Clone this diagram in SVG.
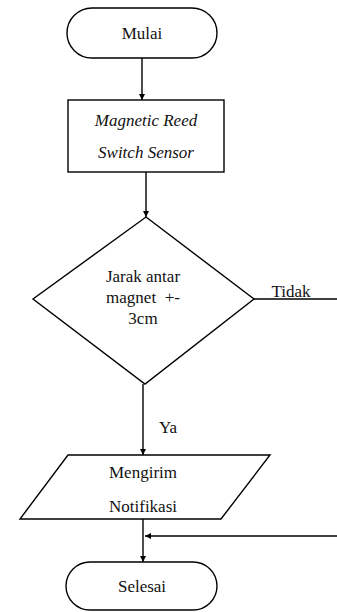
<svg xmlns="http://www.w3.org/2000/svg" width="337" height="612" viewBox="0 0 337 612">
<defs>
<marker id="arr" viewBox="0 0 10 10" refX="10" refY="5" markerWidth="6" markerHeight="7" markerUnits="userSpaceOnUse" orient="auto">
<path d="M0,0 L10,5 L0,10 z" fill="#000"/>
</marker>
<style>
.s{fill:#fff;stroke:#000;stroke-width:1.4}
.c{fill:none;stroke:#000;stroke-width:1.4}
.t{font-family:"Liberation Serif","Times New Roman",serif;font-size:17px;fill:#111;text-anchor:middle}
.i{font-style:italic}
</style>
</defs>
<rect width="337" height="612" fill="#fff"/>
<g id="connectors">
<line class="c" x1="142" y1="58" x2="142" y2="100" marker-end="url(#arr)"/>
<line class="c" x1="146" y1="172" x2="146" y2="217" marker-end="url(#arr)"/>
<line class="c" x1="254" y1="299" x2="337" y2="299"/>
<line class="c" x1="143" y1="384" x2="143" y2="455" marker-end="url(#arr)"/>
<line class="c" x1="143" y1="519" x2="143" y2="562" marker-end="url(#arr)"/>
<line class="c" x1="337" y1="536" x2="145" y2="536" marker-end="url(#arr)"/>
<text class="t" x="291" y="297">Tidak</text>
<text class="t" x="168" y="433">Ya</text>
</g>
<g id="mulai">
<rect class="s" x="67" y="8" width="150" height="50" rx="25"/>
<text class="t" x="142" y="39">Mulai</text>
</g>
<g id="sensor">
<rect class="s" x="68" y="100" width="156" height="72"/>
<text class="t i" x="146" y="126">Magnetic Reed</text>
<text class="t i" x="146" y="158">Switch Sensor</text>
</g>
<g id="decision">
<polygon class="s" points="146,217 254,299 145,384 33,299"/>
<text class="t" x="143" y="282">Jarak antar</text>
<text class="t" x="143" y="303" xml:space="preserve">magnet  +-</text>
<text class="t" x="143" y="324">3cm</text>
</g>
<g id="notifikasi">
<polygon class="s" points="68,455 270,455 221,519 20,519"/>
<text class="t" x="143" y="478">Mengirim</text>
<text class="t" x="143" y="512">Notifikasi</text>
</g>
<g id="selesai">
<rect class="s" x="66" y="562" width="151" height="48" rx="24"/>
<text class="t" x="142" y="592">Selesai</text>
</g>
</svg>
